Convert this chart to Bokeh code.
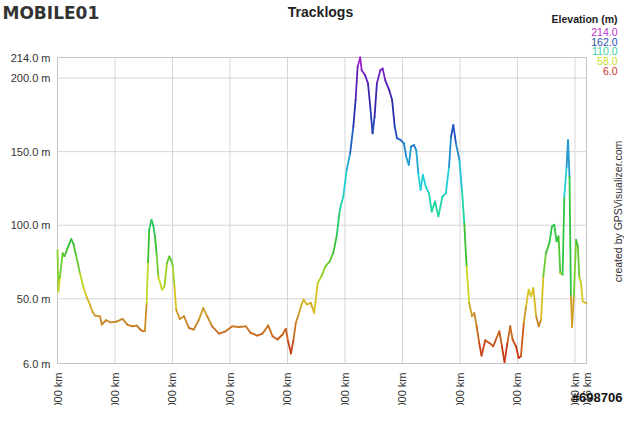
import math
from bokeh.plotting import figure
from bokeh.models import (ColumnDataSource, LinearColorMapper, FixedTicker, Label,
                          LinearAxis)
from bokeh.embed import file_html
from bokeh.resources import INLINE

# ---------------- data ----------------
distance_km = [0.0, 0.3, 0.8, 1.8, 2.4, 2.9, 3.6, 4.8, 5.6, 6.4, 7.8, 9.0, 10.2, 11.3, 12.2, 13.1,
               14.8, 15.4, 16.9, 18.5, 20.6, 22.6, 24.3, 26.1, 27.6, 28.6, 29.6, 30.4, 31.0, 31.5,
               31.9, 32.7, 33.3, 33.9, 34.5, 35.1, 36.4, 37.2, 38.1, 38.9, 39.6, 40.1, 40.7, 41.3,
               42.5, 44.0, 45.7, 47.4, 49.2, 50.7, 52.1, 53.8, 56.2, 58.5, 60.8, 63.1, 65.5, 67.2,
               69.5, 71.3, 73.3, 74.8, 76.5, 78.3, 79.4, 80.2, 81.2, 82.1, 82.9, 83.7, 84.7, 85.6,
               86.7, 88.1, 89.3, 90.5, 91.8, 93.2, 94.7, 95.9, 97.1, 98.2, 99.4, 100.6, 101.8, 102.9,
               103.7, 104.4, 105.3, 105.8, 107.0, 108.0, 108.8, 109.6, 110.3, 111.1, 112.3, 113.1,
               114.0, 115.4, 116.4, 117.3, 118.1, 119.3, 120.5, 121.3, 122.2, 123.0, 124.0, 124.8,
               125.5, 126.3, 127.1, 128.1, 129.2, 130.2, 131.3, 132.5, 133.9, 135.1, 136.2, 136.9,
               137.7, 138.6, 139.8, 140.7, 141.5, 142.3, 143.2, 144.2, 145.0, 145.8, 146.7, 147.5,
               148.8, 150.2, 151.6, 152.5, 153.7, 154.6, 155.5, 156.5, 157.5, 158.3, 159.5, 160.4,
               161.2, 162.2, 163.0, 163.9, 164.7, 165.5, 166.5, 167.4, 168.2, 169.0, 169.9, 171.1,
               172.0, 172.8, 173.6, 174.3, 174.9, 175.7, 176.3, 177.1, 177.6, 178.1, 178.6, 179.0,
               179.6, 180.4, 181.0, 181.5, 182.1, 182.7, 183.8, 184.016]
elevation_m = [83, 55, 64, 81, 79, 81, 85, 90.5, 87, 80, 67.5, 58, 51, 46, 41, 38.5,
               38, 32.5, 35.4, 34, 34.5, 36.3, 32.4, 31.3, 31.8, 29.5, 28, 28, 47, 75,
               97, 103.7, 100, 92.4, 80, 65, 56.2, 58.4, 74.3, 78.8, 76, 72, 58, 42.6,
               36.3, 38.1, 30.2, 29.0, 35.8, 43.7, 38.1, 31.3, 26.3, 27.9, 31.3, 30.8, 31.3, 26.8,
               25.0, 26.3, 31.8, 24.6, 22.3, 25.7, 29.6, 21.2, 12.8, 22.3, 33.6, 38.1, 45.0, 49.5,
               46.1, 47.2, 40.4, 60.7, 65.2, 72.0, 75.4, 81.0, 92.4, 110.4, 119.5, 137.6, 148.9, 167.0,
               185.1, 207.7, 214, 205.4, 202.0, 196.4, 180.5, 162.4, 173.8, 196.4, 205.4, 206.5,
               198.6, 191.8, 185.1, 167.0, 159.1, 158.0, 155.7, 146.6, 141.0, 153.4, 154.5, 151.1,
               135.3, 124.0, 134.2, 126.3, 121.8, 109.3, 116.1, 106.0, 119.5, 121.8, 139.8, 160.2,
               168.1, 155.7, 144.4, 124.0, 101.4, 72.0, 47.1, 38.1, 40.4, 31.3, 20.0, 11.4,
               21.8, 20.0, 17.7, 22.3, 27.9, 17.7, 6.9, 20.0, 31.3, 22.3, 17.7, 9.8,
               10.9, 33.6, 44.9, 56.2, 51.7, 57.3, 38.1, 31.3, 35.8, 65.2, 81.0, 87.8,
               99.1, 100.3, 89.0, 92.4, 67.5, 66.4, 119.5, 139.8, 157.9, 133.0, 51.7, 30.6,
               51.7, 90.1, 85.6, 65.2, 60.7, 48.3, 47.1, 47]

y_ticks = [6, 50, 100, 150, 200, 214]
y_tick_labels = ["6.0 m", "50.0 m", "100.0 m", "150.0 m", "200.0 m", "214.0 m"]
x_ticks = [0, 20, 40, 60, 80, 100, 120, 140, 160, 180, 184.016]
x_tick_labels = ["0.000 km", "20.000 km", "40.000 km", "60.000 km", "80.000 km", "100.000 km",
                 "120.000 km", "140.000 km", "160.000 km", "180.000 km", "184.016 km"]
legend_values = ["214.0", "162.0", "110.0", "58.0", "6.0"]

# ---------------- styles ----------------
legend_colors = ["#c030c8", "#2850b0", "#40d0a0", "#c8e030", "#c83030"]
stops = [(6, (200, 30, 16)), (20, (200, 80, 24)), (35, (200, 136, 40)), (50, (216, 192, 32)),
         (60, (200, 216, 32)), (72, (110, 204, 48)), (86, (56, 192, 48)), (100, (40, 200, 90)),
         (112, (32, 212, 160)), (130, (32, 208, 216)), (148, (32, 150, 208)), (162, (32, 80, 192)),
         (178, (40, 44, 170)), (192, (70, 32, 176)), (203, (116, 32, 192)), (214, (176, 32, 208))]


def make_palette(n=256):
    pal = []
    for i in range(n):
        v = 6 + (214 - 6) * i / (n - 1)
        for (a, ca), (b, cb) in zip(stops[:-1], stops[1:]):
            if a <= v <= b:
                t = (v - a) / (b - a)
                c = [round(ca[k] + (cb[k] - ca[k]) * t) for k in range(3)]
                pal.append("#%02x%02x%02x" % tuple(c))
                break
    return pal


FONT = "Liberation Sans"
W, H = 624, 405
# plot box inside the canvas (pixels from the top-left of the figure)
BL, BR, BT, BB = 57, 586, 57, 363
X0, X1 = distance_km[0], distance_km[-1]
Y0, Y1 = y_ticks[0], y_ticks[-1]
kx = (BR - BL) / (X1 - X0)
ky = (BB - BT) / (Y1 - Y0)
x_range = (X0 - BL / kx, X1 + (W - BR) / kx)
y_range = (Y0 - (H - BB) / ky, Y1 + BT / ky)

p = figure(width=W, height=H, x_range=x_range, y_range=y_range,
           output_backend="svg", toolbar_location=None,
           x_axis_location=None, y_axis_location=None,
           min_border=0, min_border_left=0, min_border_right=0,
           min_border_top=0, min_border_bottom=0)
p.title.visible = False
p.background_fill_color = "white"
p.border_fill_color = "white"
p.outline_line_color = None
p.xgrid.visible = False
p.ygrid.visible = False

# grid lines and plot box
gx = x_ticks[1:-1]
gy = y_ticks[1:-1]
p.segment(x0=gx, y0=[Y0] * len(gx), x1=gx, y1=[Y1] * len(gx), line_color="#d6d6d6", line_width=1)
p.segment(x0=[X0] * len(gy), y0=gy, x1=[X1] * len(gy), y1=gy, line_color="#d6d6d6", line_width=1)
p.quad(left=[X0], right=[X1], bottom=[Y0], top=[Y1], fill_color=None,
       line_color="#c4c4c4", line_width=1)

# axes fixed at the plot box edges
yax = LinearAxis(fixed_location=X0, ticker=FixedTicker(ticks=y_ticks),
                 major_label_overrides={t: l for t, l in zip(y_ticks, y_tick_labels)})
xax = LinearAxis(fixed_location=Y0, ticker=FixedTicker(ticks=x_ticks),
                 major_label_overrides={t: l for t, l in zip(x_ticks, x_tick_labels)},
                 major_label_orientation=math.pi / 2)
for ax, standoff in ((yax, 7), (xax, 9)):
    ax.axis_line_color = None
    ax.major_tick_line_color = None
    ax.minor_tick_line_color = None
    ax.major_tick_in = 0
    ax.major_tick_out = 0
    ax.major_label_standoff = standoff
    ax.major_label_text_font = FONT
    ax.major_label_text_font_size = "11px"
    ax.major_label_text_color = "#333333"
p.add_layout(yax, "left")
p.add_layout(xax, "below")

mapper = LinearColorMapper(palette=make_palette(), low=6, high=214)
src = ColumnDataSource(dict(
    x0=distance_km[:-1], y0=elevation_m[:-1],
    x1=distance_km[1:], y1=elevation_m[1:],
    ym=[(a + b) / 2 for a, b in zip(elevation_m[:-1], elevation_m[1:])]))
p.segment(x0="x0", y0="y0", x1="x1", y1="y1", source=src,
          line_color={"field": "ym", "transform": mapper}, line_width=1.8, line_cap="round")


def add_label(px, py, text, **kw):
    p.add_layout(Label(x=px, y=H - py, x_units="screen", y_units="screen", text=text,
                       text_font=kw.pop("text_font", FONT), **kw))


add_label(320, 11, "Tracklogs", text_align="center", text_baseline="middle",
          text_font_size="14px", text_font_style="bold", text_color="#222222")
add_label(2, 12, "MOBILE01", text_align="left", text_baseline="middle", text_font="DejaVu Sans",
          text_font_size="17px", text_font_style="bold", text_color="#333333")
add_label(617, 18.7, "Elevation (m)", text_align="right", text_baseline="middle",
          text_font_size="10.5px", text_font_style="bold", text_color="#222222")
legend_y = [31.3, 41.3, 50.7, 60.3, 70.7]
for v, c, ly in zip(legend_values, legend_colors, legend_y):
    add_label(617, ly, v, text_align="right", text_baseline="middle",
              text_font_size="10.5px", text_color=c)
add_label(617, 211, "created by GPSVisualizer.com", angle=math.pi / 2, text_align="center",
          text_baseline="middle", text_font_size="10.5px", text_color="#333333")
add_label(622, 397, "#698706", text_align="right", text_baseline="middle",
          text_font_size="13px", text_font_style="bold", text_color="#111111")

open("out.html", "w").write(file_html(p, INLINE))
